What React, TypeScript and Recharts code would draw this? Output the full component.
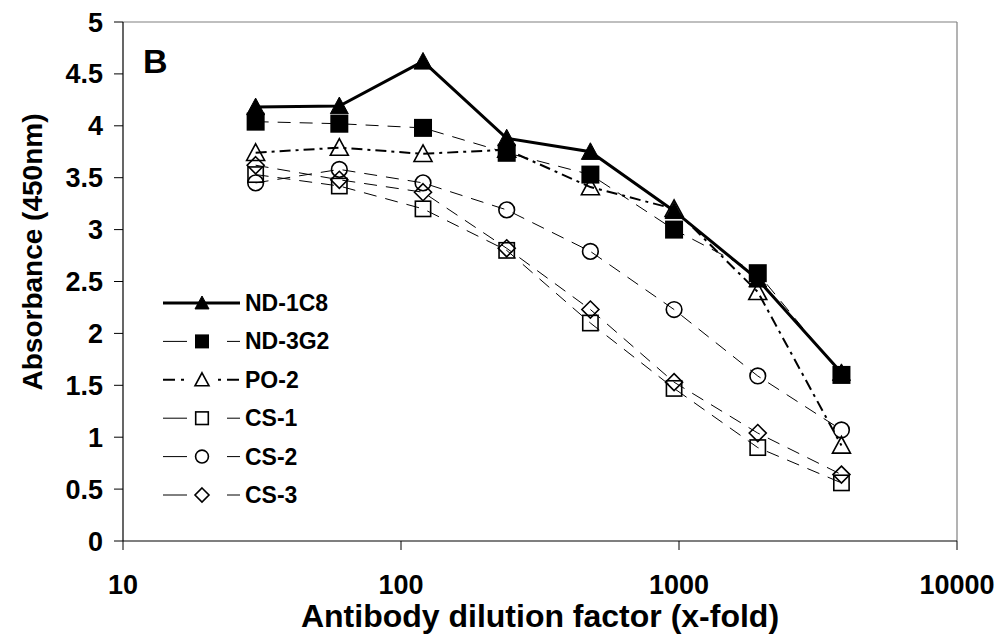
import { LineChart, Line, XAxis, YAxis, ReferenceLine } from 'recharts'

// dilution steps (x-fold) and absorbance readings at 450nm
const dilutions = [30, 60, 120, 240, 480, 960, 1920, 3840]
const nd1c8 = [4.18, 4.19, 4.62, 3.88, 3.75, 3.18, 2.52, 1.62]
const nd3g2 = [4.04, 4.02, 3.98, 3.74, 3.53, 3.0, 2.58, 1.6]
const po2 = [3.74, 3.79, 3.73, 3.77, 3.41, 3.2, 2.4, 0.92]
const cs1 = [3.53, 3.42, 3.2, 2.8, 2.1, 1.47, 0.9, 0.56]
const cs2 = [3.45, 3.58, 3.45, 3.19, 2.79, 2.23, 1.59, 1.07]
const cs3 = [3.62, 3.48, 3.36, 2.82, 2.23, 1.53, 1.04, 0.64]

const xTicks = [10, 100, 1000, 10000]
const yTicks = [0, 0.5, 1, 1.5, 2, 2.5, 3, 3.5, 4, 4.5, 5]

const FONT = '"Liberation Sans", Arial, Helvetica, sans-serif'

type Shape = 'triFill' | 'sqFill' | 'tri' | 'sq' | 'circle' | 'diamond'

interface Series {
  name: string
  values: number[]
  shape: Shape
  width: number
  dash?: string
  legendDash?: string
}

// legend order
const series: Series[] = [
  { name: 'ND-1C8', values: nd1c8, shape: 'triFill', width: 3 },
  { name: 'ND-3G2', values: nd3g2, shape: 'sqFill', width: 1, dash: '13 9', legendDash: '24 40 13' },
  { name: 'PO-2', values: po2, shape: 'tri', width: 2, dash: '11 5 3 5', legendDash: '12 6 3 34 3 6 12' },
  { name: 'CS-1', values: cs1, shape: 'sq', width: 1, dash: '13 9', legendDash: '24 40 13' },
  { name: 'CS-2', values: cs2, shape: 'circle', width: 1, dash: '13 9', legendDash: '24 40 13' },
  { name: 'CS-3', values: cs3, shape: 'diamond', width: 1, dash: '13 9', legendDash: '24 40 13' },
]

// draw order: open markers first, filled ones on top
const drawOrder = ['CS-3', 'CS-2', 'CS-1', 'PO-2', 'ND-1C8', 'ND-3G2']

const table = dilutions.map((x, i) => {
  const row: Record<string, number> = { x }
  series.forEach(s => { row[s.name] = s.values[i] })
  return row
})

function Marker({ shape, cx, cy, size }: { shape: Shape; cx: number; cy: number; size: number }) {
  const h = size / 2
  const open = { fill: 'none', stroke: '#000', strokeWidth: 1.6 }
  switch (shape) {
    case 'triFill':
      return <polygon points={`${cx},${cy - h} ${cx + h},${cy + h * 0.85} ${cx - h},${cy + h * 0.85}`} fill="#000" stroke="#000" />
    case 'sqFill':
      return <rect x={cx - h} y={cy - h} width={size} height={size} fill="#000" />
    case 'tri':
      return <polygon points={`${cx},${cy - h} ${cx + h},${cy + h * 0.85} ${cx - h},${cy + h * 0.85}`} {...open} />
    case 'sq':
      return <rect x={cx - h * 0.9} y={cy - h * 0.9} width={size * 0.9} height={size * 0.9} {...open} />
    case 'circle':
      return <circle cx={cx} cy={cy} r={h * 0.92} {...open} />
    default:
      return <polygon points={`${cx},${cy - h} ${cx + h},${cy} ${cx},${cy + h} ${cx - h},${cy}`} {...open} />
  }
}

const YTitle = () => (
  <text
    transform="translate(42,252) rotate(-90)"
    textAnchor="middle"
    fill="#000"
    fontSize={28}
    fontWeight="bold"
    fontFamily={FONT}
  >
    Absorbance (450nm)
  </text>
)

function Overlay() {
  const rowTop = 303
  const rowStep = 38.4
  return (
    <svg width={1002} height={639} style={{ position: 'absolute', left: 0, top: 0, pointerEvents: 'none' }}>
      <text x={143} y={73} fontSize={34} fontWeight="bold" fontFamily={FONT} fill="#000">B</text>
      {series.map((s, i) => {
        const cy = rowTop + i * rowStep
        return (
          <g key={s.name}>
            <line x1={163} x2={240} y1={cy} y2={cy} stroke="#000" strokeWidth={s.width} strokeDasharray={s.legendDash} />
            <Marker shape={s.shape} cx={202} cy={cy} size={14} />
            <text x={245} y={cy + 8} fontSize={23} fontWeight="bold" fontFamily={FONT} fill="#000">{s.name}</text>
          </g>
        )
      })}
    </svg>
  )
}

export default function App() {
  return (
    <div style={{ position: 'relative', width: 1002, height: 639 }}>
      <style>{'body{margin:0;background:#fff}'}</style>
      <LineChart width={1002} height={639} data={table} margin={{ top: 22, right: 45, left: 0, bottom: 0 }}>
        <XAxis
          dataKey="x"
          type="number"
          scale="log"
          domain={[10, 10000]}
          ticks={xTicks}
          interval={0}
          allowDataOverflow
          height={98}
          tickSize={9}
          tickMargin={25}
          axisLine={{ stroke: '#000', strokeWidth: 1.2 }}
          tickLine={{ stroke: '#000' }}
          tick={{ fill: '#000', fontSize: 27, fontWeight: 'bold', fontFamily: FONT }}
          label={{
            value: 'Antibody dilution factor (x-fold)',
            position: 'insideBottom',
            offset: 12,
            fill: '#000',
            fontSize: 32,
            fontWeight: 'bold',
            fontFamily: FONT,
          }}
        />
        <YAxis
          type="number"
          domain={[0, 5]}
          ticks={yTicks}
          interval={0}
          width={123}
          tickSize={9}
          tickMargin={11}
          axisLine={{ stroke: '#000', strokeWidth: 1.2 }}
          tickLine={{ stroke: '#000' }}
          tick={{ fill: '#000', fontSize: 27, fontWeight: 'bold', fontFamily: FONT }}
          label={{ content: () => <YTitle /> }}
        />
        <ReferenceLine y={5} stroke="#808080" strokeWidth={1.2} />
        <ReferenceLine x={10000} stroke="#808080" strokeWidth={1.2} />
        {drawOrder.map(name => {
          const s = series.find(d => d.name === name)!
          const size = s.shape === 'triFill' || s.shape === 'sqFill' || s.shape === 'tri' ? 18 : 17
          return (
            <Line
              key={name}
              dataKey={name}
              stroke="#000"
              strokeWidth={s.width}
              strokeDasharray={s.dash}
              isAnimationActive={false}
              dot={(p: any) => <Marker key={`${name}-${p.index}`} shape={s.shape} cx={p.cx} cy={p.cy} size={size} />}
              activeDot={false}
            />
          )
        })}
      </LineChart>
      <Overlay />
    </div>
  )
}
